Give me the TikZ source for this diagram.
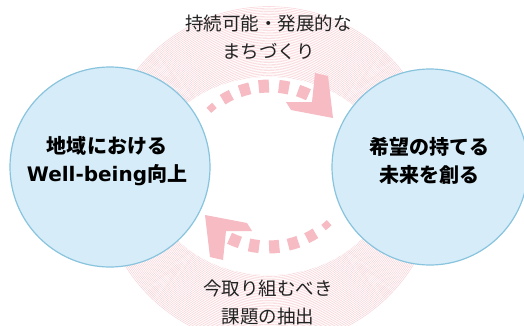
\documentclass[tikz,border=0pt]{standalone}
\usepackage{fontspec}
\newfontfamily\jp{Noto Sans CJK JP}
\newfontfamily\dv{DejaVu Sans}
\definecolor{circfill}{HTML}{D6ECF8}
\definecolor{circline}{HTML}{88C4DE}
\definecolor{arrowpink}{HTML}{F6BBC3}
\definecolor{hatchpink}{HTML}{F8CDD3}
\definecolor{textgray}{HTML}{222222}
\newcommand\cyclearrow{%
  \foreach \a/\h/\w in {131/2.4/7,119/3.2/11,106.5/3.4/12,94/3.3/13,81/3.3/13,68/3.6/12}{
    \pgfmathsetmacro\sa{\a+\h}
    \pgfmathsetmacro\ea{\a-\h}
    \draw[dashpiece, line width=\w pt] (270,150) ++(\sa:89) arc[start angle=\sa, end angle=\ea, radius=89];
  }
  \fill[headshape] (315,252) -- (328,249) -- (333,207) -- (291,215) -- (286,223) -- (312,223) -- cycle;
}
\begin{document}
\begin{tikzpicture}[x=1pt,y=1pt,
  bubble/.style={circle, draw=circline, line width=1.2pt, fill=circfill, inner sep=0pt},
  bubbletext/.style={align=center, font=\jp\bfseries\fontsize{20}{28}\selectfont, text=black},
  cycletext/.style={align=center, font=\jp\fontsize{18.5}{28}\selectfont, text=textgray},
  dashpiece/.style={draw=arrowpink, line cap=butt},
  headshape/.style={fill=arrowpink}]
\useasboundingbox (0,0) rectangle (524,325);
\clip (0,0) rectangle (524,325);
\fill[white] (0,0) rectangle (524,325);
% hatched ring
\foreach \r in {99,100.6,...,171} \draw[hatchpink, line width=0.45pt] (269,149) circle[radius=\r];
\fill[white] (269,149) ellipse[x radius=120, y radius=99];
% texts on the ring
\node[cycletext] (topt) at (268.5,287.5) {持続可能・発展的な\\まちづくり};
\node[cycletext] (bott) at (268,22.5) {今取り組むべき\\課題の抽出};
% arrows
\begin{scope}
\cyclearrow
\end{scope}
\begin{scope}[rotate around={180:(269,158.5)}]
\cyclearrow
\end{scope}
% circles
\node[bubble, minimum size=200pt] (L) at (110,158) {};
\node[bubble, minimum size=196pt] (R) at (430,158) {};
\node[bubbletext] (Lt) at (107,164) {地域における\\{\dv\bfseries Well-being}向上};
\node[bubbletext] (Rt) at (429,164.5) {希望の持てる\\未来を創る};
\end{tikzpicture}
\end{document}
